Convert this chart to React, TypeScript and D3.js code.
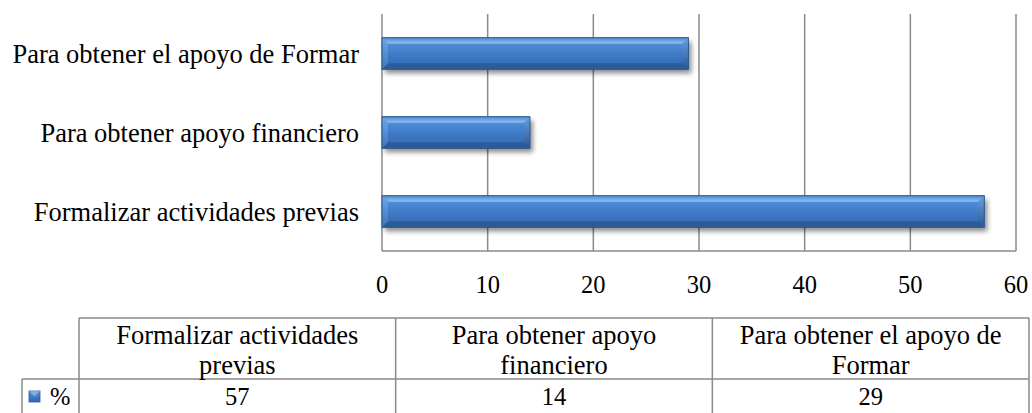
import React from 'react'
import * as d3 from 'd3'

// chart data
const categories = [
  'Formalizar actividades previas',
  'Para obtener apoyo financiero',
  'Para obtener el apoyo de Formar'
]
const tableHeaderLines = [
  ['Formalizar actividades', 'previas'],
  ['Para obtener apoyo', 'financiero'],
  ['Para obtener el apoyo de', 'Formar']
]
const values = [57, 14, 29]
const seriesName = '%'
const xTicks = [0, 10, 20, 30, 40, 50, 60]

const WIDTH = 1032
const HEIGHT = 413
const GRID = '#8a8a8a'
const SERIF = 'Liberation Serif'
const labelStyle = { fontFamily: "'Liberation Serif'", fontSize: '26.5px' }
const numberStyle = { fontFamily: "'Liberation Serif'", fontSize: '24.5px' }

/**
 * Single bevelled bar with a soft drop shadow.
 */
class BevelBar extends React.Component<any> {
  render () {
    const { x0, x1, y0, y1 } = this.props
    const b = Math.min(6, (x1 - x0) / 2)
    return (
      <g>
        <rect x={x0} y={y0} width={x1 - x0} height={y1 - y0} fill='#000' opacity={0.45} filter='url(#barShadow)' transform='translate(3,4)' />
        <rect x={x0} y={y0} width={x1 - x0} height={y1 - y0} fill='url(#barFace)' />
        <polygon points={`${x0},${y0} ${x1},${y0} ${x1 - b},${y0 + b} ${x0 + b},${y0 + b}`} fill='url(#bevelTop)' />
        <polygon points={`${x0},${y1} ${x1},${y1} ${x1 - b},${y1 - b} ${x0 + b},${y1 - b}`} fill='#2d5b99' />
        <polygon points={`${x0},${y0} ${x0 + b},${y0 + b} ${x0 + b},${y1 - b} ${x0},${y1}`} fill='url(#bevelLeft)' />
        <polygon points={`${x1},${y0} ${x1},${y1} ${x1 - b},${y1 - b} ${x1 - b},${y0 + b}`} fill='url(#bevelRight)' />
        <rect x={x0} y={y0} width={x1 - x0} height={y1 - y0} fill='none' stroke='#2c5890' strokeWidth={1} />
      </g>
    )
  }
}

/**
 * Horizontal bar chart with a data table underneath.
 */
class App extends React.Component {
  render () {
    const plot = { left: 382, right: 1016, top: 14, bottom: 251 }

    const xScale = d3.scaleLinear()
      .domain([0, 60])
      .range([plot.left, plot.right])

    const yScale = d3.scaleBand<string>()
      .domain([...categories].reverse())
      .range([plot.top, plot.bottom])
      .paddingInner(0.6)
      .paddingOuter(0.3)

    // table geometry
    const table = { left: 79, keyLeft: 22, right: 1029, top: 318, mid: 379, bottom: 416 }
    const colScale = d3.scaleBand<string>()
      .domain(categories)
      .range([table.left, table.right])

    const bars = categories.map((c, i) => (
      <BevelBar
        key={c}
        x0={xScale(0)}
        x1={xScale(values[i])}
        y0={yScale(c)}
        y1={(yScale(c) as number) + yScale.bandwidth()}
        />
    ))

    return (
      <svg width={WIDTH} height={HEIGHT} style={{ position: 'absolute', left: 0, top: 0 }}>
        <defs>
          <linearGradient id='barFace' x1='0' y1='0' x2='0' y2='1'>
            <stop offset='0%' stopColor='#5a93dc' />
            <stop offset='30%' stopColor='#4a86d3' />
            <stop offset='60%' stopColor='#3c77c3' />
            <stop offset='100%' stopColor='#3468ad' />
          </linearGradient>
          <linearGradient id='bevelTop' x1='0' y1='0' x2='0' y2='1'>
            <stop offset='0%' stopColor='#4f8ad5' />
            <stop offset='100%' stopColor='#8fc0f2' />
          </linearGradient>
          <linearGradient id='bevelLeft' x1='0' y1='0' x2='0' y2='1'>
            <stop offset='0%' stopColor='#6fa6e6' />
            <stop offset='100%' stopColor='#3d76c0' />
          </linearGradient>
          <linearGradient id='bevelRight' x1='0' y1='0' x2='0' y2='1'>
            <stop offset='0%' stopColor='#6a9fe0' />
            <stop offset='100%' stopColor='#2b5794' />
          </linearGradient>
          <filter id='barShadow' x='-10%' y='-50%' width='120%' height='200%'>
            <feGaussianBlur stdDeviation='2.5' />
          </filter>
        </defs>

        {/* grid lines */}
        <g>
          {xTicks.map(t => (
            <line key={t} x1={xScale(t)} x2={xScale(t)} y1={plot.top} y2={plot.bottom} stroke={GRID} strokeWidth={1.5} />
          ))}
          <line x1={plot.left} x2={plot.right} y1={plot.bottom} y2={plot.bottom} stroke={GRID} strokeWidth={1.5} />
        </g>

        <g>{bars}</g>

        {/* category labels */}
        {categories.map(c => (
          <text key={c} fontFamily={SERIF} style={labelStyle} textAnchor='end' x={plot.left - 23} y={(yScale(c) as number) + yScale.bandwidth() / 2 + 1} dy='0.33em'>{c}</text>
        ))}

        {/* x tick labels */}
        {xTicks.map(t => (
          <text key={t} fontFamily={SERIF} style={numberStyle} textAnchor='middle' x={xScale(t)} y={285} dy='0.33em'>{t}</text>
        ))}

        {/* data table */}
        <g stroke={GRID} strokeWidth={1.5} fill='none'>
          <line x1={table.left} x2={table.right} y1={table.top} y2={table.top} />
          <line x1={table.keyLeft} x2={table.right} y1={table.mid} y2={table.mid} />
          <line x1={table.keyLeft} x2={table.keyLeft} y1={table.mid} y2={table.bottom} />
          <line x1={table.left} x2={table.left} y1={table.top} y2={table.bottom} />
          {categories.map(c => (
            <line key={c} x1={(colScale(c) as number) + colScale.bandwidth()} x2={(colScale(c) as number) + colScale.bandwidth()} y1={table.top} y2={table.bottom} />
          ))}
        </g>
        {categories.map((c, i) => {
          const cx = (colScale(c) as number) + colScale.bandwidth() / 2
          return (
            <g key={c}>
              <text fontFamily={SERIF} style={labelStyle} textAnchor='middle' x={cx} y={335} dy='0.33em'>{tableHeaderLines[i][0]}</text>
              <text fontFamily={SERIF} style={labelStyle} textAnchor='middle' x={cx} y={365} dy='0.33em'>{tableHeaderLines[i][1]}</text>
              <text fontFamily={SERIF} style={numberStyle} textAnchor='middle' x={cx} y={397} dy='0.33em'>{values[i]}</text>
            </g>
          )
        })}

        {/* legend key */}
        <rect x={29} y={391} width={11} height={11} fill='url(#barFace)' stroke='#2c5890' strokeWidth={0.8} />
        <polygon points='29,391 40,391 34.5,396.5' fill='#8fc0f2' opacity={0.7} />
        <text fontFamily={SERIF} style={numberStyle} x={50} y={397} dy='0.33em'>{seriesName}</text>
      </svg>
    )
  }
}

export default App
